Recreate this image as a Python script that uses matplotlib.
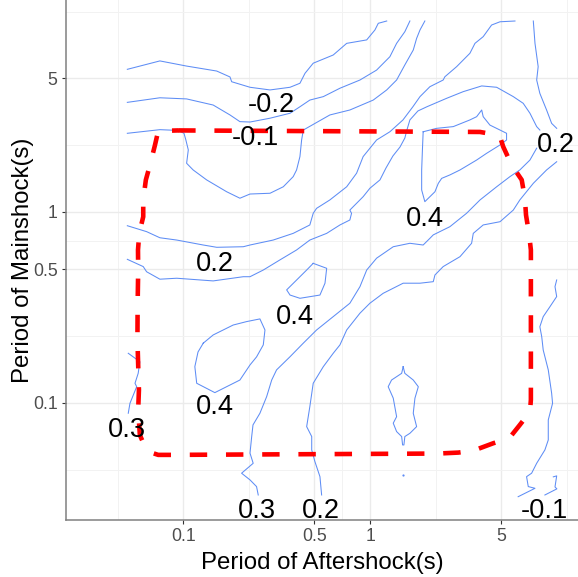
import numpy as np
import matplotlib
matplotlib.use('Agg')
import matplotlib.pyplot as plt
from matplotlib.ticker import FixedLocator, FixedFormatter, NullFormatter

plt.rcParams['font.family'] = ['Liberation Sans', 'DejaVu Sans']

# contour paths, as log10 of the periods (s)
# x = aftershock period, y = mainshock period
a_x = [-1.30, -1.126, -0.983, -0.822, -0.751, -0.742, -0.644, -0.537, -0.430, -0.377,
       -0.350, -0.306, -0.199, -0.127, -0.020, 0.024, 0.042, 0.087]
a_y = [0.747, 0.791, 0.764, 0.738, 0.707, 0.682, 0.653, 0.639, 0.653, 0.674,
       0.726, 0.779, 0.822, 0.883, 0.901, 0.953, 0.988, 1.0]

b_x = [-1.30, -1.126, -0.983, -0.841, -0.751, -0.698, -0.644, -0.537, -0.430, -0.377,
       -0.324, -0.252, -0.163, -0.056, 0.033, 0.104, 0.140, 0.184, 0.211]
b_y = [0.574, 0.598, 0.592, 0.560, 0.508, 0.473, 0.471, 0.491, 0.517, 0.551,
       0.586, 0.604, 0.648, 0.691, 0.743, 0.813, 0.883, 0.944, 1.0]

c_x = [-1.30, -1.126, -1.029, -0.997, -0.987, -0.974, -0.983, -0.948, -0.876, -0.769,
       -0.698, -0.644, -0.537, -0.466, -0.413, -0.395, -0.377, -0.368, -0.359, -0.217,
       -0.110, 0.015, 0.087, 0.140, 0.184, 0.229, 0.247, 0.265, 0.291]
c_y = [0.412, 0.431, 0.427, 0.412, 0.377, 0.325, 0.255, 0.220, 0.168, 0.106,
       0.072, 0.094, 0.098, 0.132, 0.185, 0.220, 0.290, 0.377, 0.429, 0.508,
       0.534, 0.586, 0.639, 0.691, 0.770, 0.848, 0.909, 0.953, 1.0]

d_x = [-1.30, -1.197, -1.126, -1.036, -0.894, -0.822, -0.680, -0.644, -0.520, -0.413,
       -0.324, -0.306, -0.288, -0.217, -0.127, -0.074, -0.039, 0.033, 0.104, 0.174,
       0.227, 0.265, 0.318, 0.389, 0.398, 0.461, 0.532, 0.559, 0.603, 0.648, 0.693, 0.773]
d_y = [-0.072, -0.103, -0.135, -0.147, -0.173, -0.185, -0.182, -0.173, -0.147, -0.112,
       -0.068, -0.007, 0.019, 0.063, 0.132, 0.203, 0.290, 0.377, 0.420, 0.482,
       0.551, 0.604, 0.656, 0.691, 0.708, 0.761, 0.831, 0.883, 0.918, 0.979, 0.996, 1.0]

e_x = [-1.30, -1.215, -1.197, -1.126, -1.036, -0.841, -0.680, -0.644, -0.573, -0.484,
       -0.395, -0.324, -0.234, -0.163, -0.110, -0.101, -0.110, -0.039, -0.003, 0.051,
       0.083, 0.120, 0.158, 0.184, 0.195, 0.211, 0.254, 0.302, 0.407, 0.496,
       0.595, 0.675, 0.764, 0.817, 0.853, 0.889, 0.906]
e_y = [-0.248, -0.286, -0.313, -0.352, -0.347, -0.361, -0.339, -0.339, -0.304, -0.251,
       -0.199, -0.147, -0.112, -0.068, -0.042, -0.007, 0.010, 0.080, 0.124, 0.168,
       0.230, 0.293, 0.340, 0.387, 0.429, 0.482, 0.529, 0.551, 0.595, 0.630,
       0.660, 0.653, 0.604, 0.569, 0.517, 0.447, 0.429]

f_x = [0.871, 0.880, 0.897, 0.889, 0.906, 0.942, 0.969, 0.996]
f_y = [1.0, 0.883, 0.761, 0.691, 0.621, 0.534, 0.464, 0.438]

f2_x = [0.996, 0.942, 0.871, 0.799, 0.764, 0.693, 0.603, 0.550, 0.541, 0.479,
        0.389, 0.345, 0.336, 0.265, 0.175, 0.068, -0.003, -0.056, -0.127, -0.163,
        -0.199, -0.252, -0.306, -0.324, -0.341, -0.314, -0.314, -0.297, -0.270, -0.261]
f2_y = [0.263, 0.220, 0.150, 0.063, 0.010, -0.051, -0.068, -0.112, -0.164, -0.234,
        -0.286, -0.330, -0.365, -0.373, -0.373, -0.426, -0.478, -0.530, -0.618, -0.696,
        -0.740, -0.810, -0.897, -1.019, -1.124, -1.176, -1.246, -1.307, -1.386, -1.482]

g_x = [0.889, 0.853, 0.799, 0.746, 0.675, 0.586, 0.514, 0.425, 0.336, 0.318,
       0.282, 0.211, 0.122, 0.033, -0.020, -0.056, -0.110, -0.199, -0.288, -0.359,
       -0.430, -0.502, -0.528, -0.555, -0.591, -0.628, -0.635, -0.644, -0.627, -0.689,
       -0.644, -0.609, -0.600]
g_y = [0.334, 0.272, 0.220, 0.185, 0.132, 0.063, -0.007, -0.077, -0.120, -0.138,
       -0.173, -0.164, -0.182, -0.242, -0.304, -0.391, -0.478, -0.548, -0.618, -0.687,
       -0.758, -0.827, -0.880, -0.967, -1.054, -1.115, -1.176, -1.263, -1.316, -1.368,
       -1.403, -1.438, -1.482]

h_x = [-1.295, -1.233, -1.242, -1.259, -1.250, -1.286, -1.295]
h_y = [-0.740, -0.784, -0.845, -0.897, -0.915, -1.002, -1.054]

i_x = [0.996, 0.987, 0.996, 0.960, 0.924, 0.906, 0.916, 0.924, 0.951, 0.969,
       0.974, 0.951, 0.951, 0.933, 0.889, 0.862, 0.835, 0.844, 0.880, 0.790]
i_y = [-0.356, -0.391, -0.443, -0.496, -0.548, -0.601, -0.653, -0.723, -0.827, -0.949,
       -1.002, -1.089, -1.194, -1.246, -1.316, -1.368, -1.386, -1.438, -1.447, -1.491]

i2_x = [0.978, 0.996, 0.987, 0.997, 0.933]
i2_y = [-1.387, -1.382, -1.440, -1.450, -1.482]

# closed contours
ring1_x = [0.282, 0.354, 0.443, 0.532, 0.568, 0.595, 0.603, 0.639, 0.693, 0.728,
           0.728, 0.693, 0.621, 0.568, 0.479, 0.425, 0.381, 0.363, 0.345, 0.291,
           0.274, 0.274, 0.278, 0.282]
ring1_y = [0.420, 0.438, 0.447, 0.482, 0.499, 0.534, 0.499, 0.455, 0.429, 0.412,
           0.377, 0.351, 0.307, 0.272, 0.220, 0.194, 0.176, 0.150, 0.106, 0.054,
           0.115, 0.220, 0.325, 0.420]

ring2_x = [-0.306, -0.234, -0.243, -0.270, -0.377, -0.430, -0.448, -0.377, -0.341, -0.306]
ring2_y = [-0.269, -0.295, -0.373, -0.435, -0.452, -0.435, -0.408, -0.339, -0.304, -0.269]

ring3_x = [-0.894, -0.841, -0.734, -0.662, -0.591, -0.564, -0.573, -0.609, -0.644, -0.698,
           -0.832, -0.929, -0.939, -0.922, -0.894]
ring3_y = [-0.687, -0.644, -0.592, -0.574, -0.560, -0.618, -0.696, -0.759, -0.801, -0.880,
           -0.946, -0.897, -0.810, -0.733, -0.687]

drop_x = [0.175, 0.184, 0.229, 0.256, 0.238, 0.229, 0.247, 0.211, 0.184, 0.179,
          0.172, 0.167, 0.140, 0.122, 0.140, 0.122, 0.095, 0.113, 0.167, 0.175]
drop_y = [-0.810, -0.845, -0.880, -0.915, -0.975, -1.054, -1.124, -1.159, -1.176, -1.220,
          -1.220, -1.176, -1.150, -1.106, -1.072, -0.975, -0.915, -0.880, -0.845, -0.810]

speck_x = [0.175]
speck_y = [-1.377]

# red dashed region
box_x = [-1.028, 0.586, 0.650, 0.693, 0.710, 0.755, 0.809, 0.826, 0.832, 0.849,
         0.858, 0.858, 0.853, 0.799, 0.742, 0.657, 0.550, 0.470, 0.361, -1.061,
         -1.135, -1.188, -1.206, -1.233, -1.242, -1.238, -1.246, -1.245, -1.242, -1.243,
         -1.236, -1.215, -1.215, -1.201, -1.179, -1.152, -1.135, -1.028]
box_y = [0.427, 0.419, 0.408, 0.393, 0.342, 0.246, 0.168, 0.072, -0.016, -0.120,
         -0.199, -0.984, -1.047, -1.115, -1.185, -1.211, -1.250, -1.260, -1.265, -1.272,
         -1.272, -1.255, -1.229, -1.168, -1.037, -0.932, -0.670, -0.487, -0.304, -0.199,
         -0.110, -0.025, 0.063, 0.168, 0.246, 0.351, 0.424, 0.427]

# contour labels
label_text = ['-0.2', '-0.1', '0.2', '0.4', '0.4', '0.3', '0.3', '0.2', '-0.1', '0.4', '0.2']
label_x = [-0.532, -0.615, -0.832, -0.404, -0.832, -1.301, -0.607, -0.265, 0.928, 0.293, 0.992]
label_y = [0.524, 0.351, -0.309, -0.588, -1.058, -1.180, -1.604, -1.604, -1.602, -0.072, 0.316]

tick_vals = [0.1, 0.5, 1, 5]
tick_text = ['0.1', '0.5', '1', '5']
minor_vals = [0.0447, 0.224, 0.707, 2.24, 11.2]

paths = [(a_x, a_y), (b_x, b_y), (c_x, c_y), (d_x, d_y), (e_x, e_y),
         (f_x, f_y), (f2_x, f2_y), (g_x, g_y), (h_x, h_y), (i_x, i_y),
         (i2_x, i2_y), (ring1_x, ring1_y), (ring2_x, ring2_y),
         (ring3_x, ring3_y), (drop_x, drop_y)]

BLUE = '#5E8DF5'

fig = plt.figure(figsize=(5.78, 5.77), dpi=100)
ax = fig.add_axes([66 / 578, 57 / 577, 512 / 578, 520 / 577])
ax.set_xscale('log')
ax.set_yscale('log')

for px, py in paths:
    ax.plot(10 ** np.array(px), 10 ** np.array(py), color=BLUE, lw=0.75, zorder=2)
ax.plot(10 ** np.array(speck_x), 10 ** np.array(speck_y), 'o', color=BLUE, ms=1.6, mew=0, zorder=2)

ax.plot(10 ** np.array(box_x), 10 ** np.array(box_y), color='#FF0000', lw=3.3,
        linestyle=(0, (3.8, 4.1)), dash_capstyle='butt', zorder=3)

for t, lx, ly in zip(label_text, label_x, label_y):
    ax.text(10 ** lx, 10 ** ly, t, ha='center', va='baseline', fontsize=19.6,
            color='black', clip_on=False, zorder=4)

ax.set_xlim(10 ** -1.628, 10 ** 1.110)
ax.set_ylim(10 ** -1.613, 10 ** 1.110)

for axis in (ax.xaxis, ax.yaxis):
    axis.set_major_locator(FixedLocator(tick_vals))
    axis.set_major_formatter(FixedFormatter(tick_text))
    axis.set_minor_locator(FixedLocator(minor_vals))
    axis.set_minor_formatter(NullFormatter())

ax.grid(which='major', color='#EBEBEB', lw=1.0)
ax.grid(which='minor', color='#F2F2F2', lw=0.7)
ax.set_axisbelow(True)

for s in ('top', 'right'):
    ax.spines[s].set_visible(False)
for s in ('left', 'bottom'):
    ax.spines[s].set_color('#808080')
    ax.spines[s].set_linewidth(1.1)

ax.tick_params(which='major', length=3, width=0.8, color='#333333',
               labelsize=12.7, labelcolor='#4D4D4D', pad=3)
ax.tick_params(which='minor', length=0)

ax.set_xlabel('Period of Aftershock(s)', fontsize=17.3, color='black')
ax.set_ylabel('Period of Mainshock(s)', fontsize=17.3, color='black')
ax.xaxis.set_label_coords(0.5, -0.061)
ax.yaxis.set_label_coords(-0.062, 0.5)

fig.savefig('out.png', dpi=100)
